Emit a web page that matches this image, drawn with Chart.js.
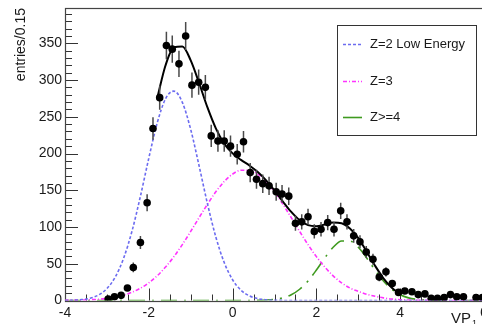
<!DOCTYPE html>
<html>
<head>
<meta charset="utf-8">
<script src="https://cdn.jsdelivr.net/npm/chart.js@4.4.0/dist/chart.umd.min.js"></script>
<style>
  html, body { margin: 0; padding: 0; background: #fff; overflow: hidden; }
  #wrap { width: 482px; height: 324px; overflow: hidden; }
  canvas { display: block; }
</style>
</head>
<body>
<div id="wrap"><canvas id="fitChart" width="500" height="324"></canvas></div>
<script>
// =============== D A T A =================================
// measured bins (entries per 0.15)
const binCenters = [-2.97, -2.82, -2.66, -2.51, -2.37, -2.20, -2.04, -1.90, -1.74, -1.58,
  -1.44, -1.28, -1.12, -0.97, -0.81, -0.65, -0.51, -0.35, -0.20, -0.05,
  0.11, 0.26, 0.42, 0.57, 0.72, 0.87, 1.04, 1.18, 1.34, 1.50,
  1.65, 1.80, 1.95, 2.11, 2.27, 2.42, 2.58, 2.73, 2.89, 3.04,
  3.19, 3.35, 3.50, 3.66, 3.81, 3.96, 4.11, 4.28, 4.43, 4.59,
  4.74, 4.89, 5.05, 5.20, 5.35, 5.51, 5.81, 5.96];
const entries = [2, 5, 7, 17, 45, 79, 133, 234, 276, 347,
  342, 322, 360, 293, 297, 290, 224, 217, 217, 210,
  199, 216, 174, 165, 159, 156, 148, 145, 142, 105,
  107, 114, 94, 97, 106, 97, 122, 107, 88, 80,
  66, 56, 32, 39, 23, 11, 13, 12, 8, 9,
  3, 3, 4, 8, 5, 5, 4, 4];
const entryErrors = [1.4, 2.2, 2.6, 4.1, 6.7, 8.9, 11.5, 15.3, 16.6, 18.6,
  18.5, 17.9, 19.0, 17.1, 17.2, 17.0, 15.0, 14.7, 14.7, 14.5,
  14.1, 14.7, 13.2, 12.8, 12.6, 12.5, 12.2, 12.0, 11.9, 10.2,
  10.3, 10.7, 9.7, 9.8, 10.3, 9.8, 11.0, 10.3, 9.4, 8.9,
  8.1, 7.5, 5.7, 6.2, 4.8, 3.3, 3.6, 3.5, 2.8, 3.0,
  1.7, 1.7, 2.0, 2.8, 2.2, 2.2, 2.0, 2.0];

// fit components
const curveX = [-4, -3.8, -3.6, -3.4, -3.2, -3, -2.8, -2.6, -2.4, -2.2,
  -2, -1.8, -1.6, -1.4, -1.2, -1, -0.8, -0.6, -0.4, -0.2,
  0, 0.2, 0.4, 0.6, 0.8, 1, 1.2, 1.4, 1.6, 1.8,
  2, 2.2, 2.4, 2.6, 2.8, 3, 3.2, 3.4, 3.6, 3.8,
  4, 4.2, 4.4, 4.6, 4.8, 5, 5.2, 5.4, 5.6, 5.8, 6];
const lowEnergyZ2 = [0.1, 0.4, 1.2, 3.2, 7.5, 16.2, 32.0, 57.7, 94.6, 141.8,
  193.7, 241.4, 274.6, 284.9, 269.6, 232.8, 183.3, 131.7, 86.4, 51.6,
  28.2, 14.0, 6.4, 2.6, 1.0, 0.3, 0.1, 0, 0, 0,
  0, 0, 0, 0, 0, 0, 0, 0, 0, 0,
  0, 0, 0, 0, 0, 0, 0, 0, 0, 0, 0];
const chargeZ3 = [0.2, 0.3, 0.6, 1.0, 1.7, 2.9, 4.7, 7.4, 11.3, 16.7,
  24.1, 33.6, 45.5, 59.7, 76.0, 94.0, 112.7, 131.0, 147.9, 161.9,
  172.0, 177.3, 177.3, 172.0, 161.9, 147.9, 131.0, 112.7, 94.0, 76.0,
  59.7, 45.5, 33.6, 24.1, 17.0, 12.5, 8.5, 5.8, 3.6, 2.0,
  1.1, 0.6, 0.3, 0.15, 0.1, 0, 0, 0, 0, 0, 0];
const chargeZ4 = [0, 0, 0, 0, 0, 0, 0, 0, 0, 0,
  0, 0, 0, 0, 0, 0, 0, 0, 0, 0,
  0, 0, 0, 0.2, 0.6, 1.5, 3.6, 7.8, 15.3, 26.6,
  41.5, 57.9, 72.4, 80.9, 80.9, 72.4, 57.9, 41.5, 26.6, 15.3,
  7.8, 3.6, 1.5, 0.6, 0.2, 0, 0, 0, 0, 0, 0];
const fitX = [-1.8, -1.6, -1.4, -1.2, -1, -0.8, -0.6, -0.4, -0.2, 0,
  0.2, 0.4, 0.6, 0.8, 1, 1.2, 1.4, 1.6, 1.8, 2,
  2.2, 2.4, 2.6, 2.8, 3, 3.2, 3.4, 3.6, 3.8, 4];
const fitTotal = [275.0, 320.1, 344.6, 345.6, 326.8, 296.0, 262.7, 234.3, 213.5, 200.2,
  191.3, 183.7, 174.8, 163.5, 149.7, 134.7, 120.5, 109.3, 102.6, 101.2,
  103.4, 106.0, 105.0, 97.9, 84.9, 66.4, 47.3, 30.2, 17.3, 8.9];

const xTicks = [-4, -2, 0, 2, 4, 6];
const yTicks = [0, 50, 100, 150, 200, 250, 300, 350];

const FONT = '"Liberation Sans", Arial, Helvetica, sans-serif';
const TXT = '#1a1a1a';

function pts(xs, ys) {
  return xs.map((x, i) => ({ x: x, y: ys[i] }));
}

// =============== P L U G I N S ===================================
// root style frame with inner ticks
const frameTicks = {
  id: 'frameTicks',
  beforeDatasetsDraw(chart) {
    const { ctx, chartArea: a, scales: { x, y } } = chart;
    ctx.save();
    ctx.strokeStyle = '#333';
    ctx.lineWidth = 1;
    ctx.beginPath();
    // y ticks: minor every 10, major every 50
    for (let v = 0; v <= y.max; v += 10) {
      const py = Math.round(y.getPixelForValue(v)) + 0.5;
      const len = v % 50 === 0 ? 13 : 7;
      ctx.moveTo(a.left, py);
      ctx.lineTo(a.left + len, py);
    }
    // x ticks: minor every 0.5, major every 2
    for (let v = x.min; v <= x.max; v += 0.5) {
      const px = Math.round(x.getPixelForValue(v)) + 0.5;
      const len = xTicks.includes(v) ? 12 : 6;
      ctx.moveTo(px, a.bottom);
      ctx.lineTo(px, a.bottom - len);
    }
    ctx.stroke();

    ctx.lineWidth = 1.2;
    ctx.strokeStyle = '#444';
    ctx.strokeRect(Math.round(a.left) + 0.5, Math.round(a.top) + 0.5,
      Math.round(a.right - a.left), Math.round(a.bottom - a.top));
    ctx.restore();
  }
};

// vertical error bars under the markers
const errorBars = {
  id: 'errorBars',
  beforeDatasetDraw(chart, args) {
    if (args.index !== 0) return;
    const { ctx, scales: { x, y } } = chart;
    ctx.save();
    ctx.strokeStyle = '#4a4a4a';
    ctx.lineWidth = 1.5;
    ctx.beginPath();
    binCenters.forEach((bx, i) => {
      const px = x.getPixelForValue(bx);
      ctx.moveTo(px, y.getPixelForValue(entries[i] - entryErrors[i]));
      ctx.lineTo(px, y.getPixelForValue(entries[i] + entryErrors[i]));
    });
    ctx.stroke();
    ctx.restore();
  }
};

// titles + legend box
const decorations = {
  id: 'decorations',
  afterDraw(chart) {
    const { ctx, chartArea: a } = chart;
    ctx.save();
    ctx.fillStyle = TXT;

    // y title, right aligned to top of axis
    ctx.save();
    ctx.translate(25, a.top);
    ctx.rotate(-Math.PI / 2);
    ctx.font = '14px ' + FONT;
    ctx.textAlign = 'right';
    ctx.textBaseline = 'alphabetic';
    ctx.fillText('entries/0.15', 0, 0);
    ctx.restore();

    // x title
    ctx.font = '15px ' + FONT;
    ctx.textAlign = 'left';
    ctx.textBaseline = 'alphabetic';
    ctx.fillText('VP', 451, 323);
    ctx.font = '9px ' + FONT;
    ctx.fillText('1', 472, 326);

    // legend
    ctx.strokeStyle = '#333';
    ctx.lineWidth = 1;
    ctx.fillStyle = '#fff';
    ctx.fillRect(337.5, 25.5, 139, 110);
    ctx.strokeRect(337.5, 25.5, 139, 110);
    const rows = [
      { t: 'Z=2 Low Energy', c: '#6c6cf0', d: [3, 2], y: 44 },
      { t: 'Z=3', c: '#ff33ff', d: [4, 2, 1, 2], y: 81 },
      { t: 'Z>=4', c: '#3f9a1f', d: [], y: 117 }
    ];
    ctx.font = '13px ' + FONT;
    ctx.textBaseline = 'middle';
    rows.forEach(r => {
      ctx.strokeStyle = r.c;
      ctx.lineWidth = 1.6;
      ctx.setLineDash(r.d);
      ctx.beginPath();
      ctx.moveTo(343, r.y + 0.5);
      ctx.lineTo(362, r.y + 0.5);
      ctx.stroke();
      ctx.setLineDash([]);
      ctx.fillStyle = TXT;
      ctx.fillText(r.t, 370, r.y);
    });
    ctx.restore();
  }
};

// =============== C H A R T =======================================
const ctx = document.getElementById('fitChart');

new Chart(ctx, {
  type: 'scatter',
  data: {
    datasets: [
      {
        label: 'data',
        data: pts(binCenters, entries),
        pointRadius: 3.8,
        pointBackgroundColor: '#000',
        pointBorderWidth: 0,
        showLine: false,
        order: 0
      },
      {
        label: 'fit',
        data: pts(fitX, fitTotal),
        showLine: true,
        borderColor: '#000',
        borderWidth: 2,
        pointRadius: 0,
        cubicInterpolationMode: 'monotone',
        order: 1
      },
      {
        label: 'Z=2 Low Energy',
        data: pts(curveX, lowEnergyZ2),
        showLine: true,
        borderColor: '#6c6cf0',
        borderWidth: 1.6,
        borderDash: [3, 2],
        pointRadius: 0,
        cubicInterpolationMode: 'monotone',
        order: 2
      },
      {
        label: 'Z=3',
        data: pts(curveX, chargeZ3),
        showLine: true,
        borderColor: '#ff33ff',
        borderWidth: 1.6,
        borderDash: [4, 2, 1, 2],
        pointRadius: 0,
        cubicInterpolationMode: 'monotone',
        order: 3
      },
      {
        label: 'Z>=4',
        data: pts(curveX, chargeZ4),
        showLine: true,
        borderColor: '#3f9a1f',
        borderWidth: 1.6,
        borderDash: [16, 7, 2, 7],
        pointRadius: 0,
        cubicInterpolationMode: 'monotone',
        order: 4
      }
    ]
  },
  options: {
    responsive: false,
    animation: false,
    layout: { padding: { top: 8, right: 16, left: 0, bottom: 0 } },
    plugins: {
      legend: { display: false },
      tooltip: { enabled: false }
    },
    scales: {
      x: {
        type: 'linear',
        min: -4,
        max: 6,
        grid: { display: false, drawTicks: false },
        border: { display: false },
        afterBuildTicks: s => { s.ticks = xTicks.map(v => ({ value: v })); },
        afterFit: s => { s.height = 23.5; s.paddingLeft = 0; s.paddingRight = 0; },
        ticks: { padding: 4, maxRotation: 0, color: TXT, font: { family: FONT, size: 14 } }
      },
      y: {
        min: 0,
        max: 398,
        grid: { display: false, drawTicks: false },
        border: { display: false },
        afterBuildTicks: s => { s.ticks = yTicks.map(v => ({ value: v })); },
        afterFit: s => { s.width = 65; s.paddingTop = 0; s.paddingBottom = 0; },
        ticks: { padding: 3, color: TXT, font: { family: FONT, size: 14 } }
      }
    }
  },
  plugins: [frameTicks, errorBars, decorations]
});
</script>
</body>
</html>
